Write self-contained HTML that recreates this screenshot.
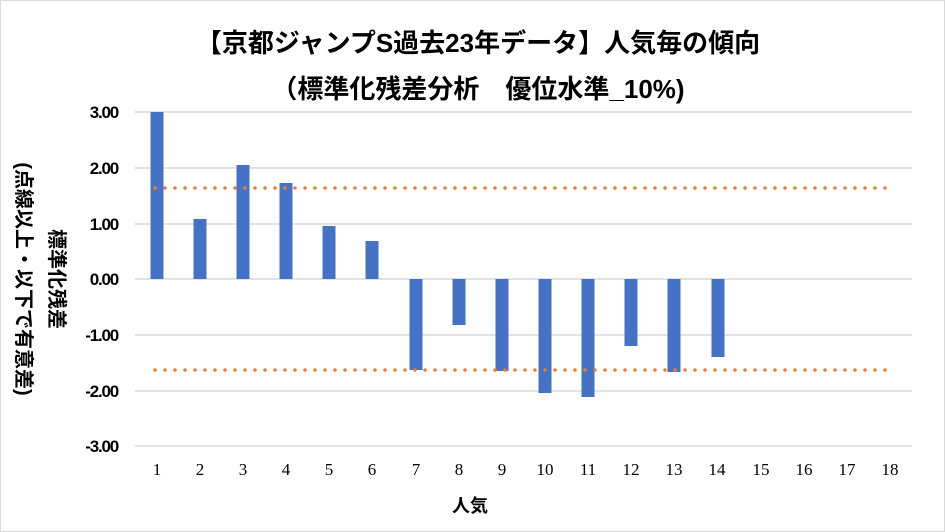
<!DOCTYPE html>
<html><head><meta charset="utf-8"><style>
html,body{margin:0;padding:0;background:#fff;}
svg{display:block;}
</style></head><body>
<svg width="945" height="532" viewBox="0 0 945 532" xmlns="http://www.w3.org/2000/svg">
<rect x="0.5" y="0.5" width="944" height="531" fill="#fff" stroke="#d9d9d9"/>
<g font-family="'Liberation Sans','Noto Sans CJK JP',sans-serif" font-weight="bold" fill="#000" text-anchor="middle">
<text x="478" y="52" font-size="26">【京都ジャンプS過去23年データ】人気毎の傾向</text>
<text x="478" y="98" font-size="26">（標準化残差分析　優位水準_10%)</text>
</g>
<g stroke="#d9d9d9" stroke-width="1.5">
<line x1="135" x2="912" y1="112" y2="112"/>
<line x1="135" x2="912" y1="168" y2="168"/>
<line x1="135" x2="912" y1="224" y2="224"/>
<line x1="135" x2="912" y1="279" y2="279"/>
<line x1="135" x2="912" y1="335" y2="335"/>
<line x1="135" x2="912" y1="391" y2="391"/>
<line x1="135" x2="912" y1="446" y2="446"/>
</g>
<g font-family="'Liberation Sans',sans-serif" font-weight="bold" font-size="17" text-anchor="end" fill="#000" letter-spacing="-1.2">
<text x="118" y="118">3.00</text><text x="118" y="174">2.00</text><text x="118" y="230">1.00</text>
<text x="118" y="285">0.00</text><text x="118" y="341">-1.00</text><text x="118" y="397">-2.00</text><text x="118" y="452">-3.00</text>
</g>
<g fill="#4472c4">
<rect x="150.5" y="112" width="13" height="167"/>
<rect x="193.5" y="219" width="13" height="60"/>
<rect x="236.5" y="165" width="13" height="114"/>
<rect x="279.5" y="183" width="13" height="96"/>
<rect x="322.5" y="226" width="13" height="53"/>
<rect x="365.5" y="241" width="13" height="38"/>
<rect x="409.5" y="279" width="13" height="91"/>
<rect x="452.5" y="279" width="13" height="46"/>
<rect x="495.5" y="279" width="13" height="92"/>
<rect x="538.5" y="279" width="13" height="114"/>
<rect x="581.5" y="279" width="13" height="118"/>
<rect x="624.5" y="279" width="13" height="67"/>
<rect x="667.5" y="279" width="13" height="93"/>
<rect x="711.5" y="279" width="13" height="78"/>
</g>
<g stroke="#ed7d31" stroke-width="3.5" stroke-linecap="round" stroke-dasharray="0 10">
<line x1="155" x2="890" y1="188" y2="188"/>
<line x1="155" x2="890" y1="370" y2="370"/>
</g>
<g font-family="'Liberation Serif',serif" font-size="17" text-anchor="middle" fill="#000">
<text x="157" y="475">1</text><text x="200" y="475">2</text><text x="243" y="475">3</text><text x="286" y="475">4</text>
<text x="329" y="475">5</text><text x="372" y="475">6</text><text x="416" y="475">7</text><text x="459" y="475">8</text>
<text x="502" y="475">9</text><text x="545" y="475">10</text><text x="588" y="475">11</text><text x="631" y="475">12</text>
<text x="674" y="475">13</text><text x="717" y="475">14</text><text x="761" y="475">15</text><text x="804" y="475">16</text>
<text x="847" y="475">17</text><text x="890" y="475">18</text>
</g>
<text x="470" y="512" font-family="'Liberation Sans','Noto Sans CJK JP',sans-serif" font-weight="bold" font-size="18" text-anchor="middle">人気</text>
<g font-family="'Liberation Sans','Noto Sans CJK JP',sans-serif" font-weight="bold" font-size="20" text-anchor="middle">
<text transform="translate(50,279) rotate(90)">標準化残差</text>
<text transform="translate(17,279) rotate(90)">(点線以上・以下で有意差)</text>
</g>
</svg>
</body></html>
